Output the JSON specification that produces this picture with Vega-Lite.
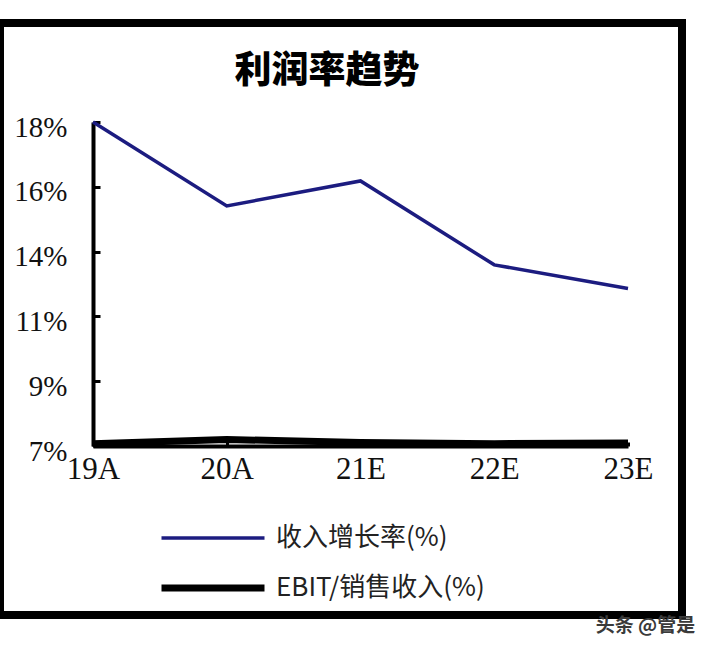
{
  "$schema": "https://vega.github.io/schema/vega-lite/v6.json",
  "autosize": "none",
  "padding": {"left": 0, "top": 23, "right": 26, "bottom": 33},
  "width": 682,
  "height": 592,
  "background": "#ffffff",
  "title": {
    "text": "利润率趋势",
    "font": "Noto Sans CJK SC",
    "fontSize": 37,
    "fontWeight": 900,
    "color": "#000000",
    "anchor": "middle",
    "dx": -14,
    "offset": -68
  },
  "data": {
    "values": [
      {"year": "19A", "series": "收入增长率(%)", "value": 18.0},
      {"year": "20A", "series": "收入增长率(%)", "value": 15.15},
      {"year": "21E", "series": "收入增长率(%)", "value": 16.0},
      {"year": "22E", "series": "收入增长率(%)", "value": 13.15},
      {"year": "23E", "series": "收入增长率(%)", "value": 12.35},
      {"year": "19A", "series": "EBIT/销售收入(%)", "value": 7.08},
      {"year": "20A", "series": "EBIT/销售收入(%)", "value": 7.22},
      {"year": "21E", "series": "EBIT/销售收入(%)", "value": 7.12},
      {"year": "22E", "series": "EBIT/销售收入(%)", "value": 7.08},
      {"year": "23E", "series": "EBIT/销售收入(%)", "value": 7.1}
    ]
  },
  "mark": {"type": "line", "strokeCap": "butt", "strokeJoin": "miter"},
  "encoding": {
    "x": {
      "field": "year",
      "type": "ordinal",
      "scale": {"type": "point", "range": [93, 628], "padding": 0},
      "axis": {
        "title": "头条 @管是",
        "titleX": 645,
        "titleY": 179,
        "titleAlign": "center",
        "titleBaseline": "middle",
        "titleFont": "Noto Sans CJK SC",
        "titleFontSize": 19,
        "titleFontWeight": "bold",
        "titleColor": "#3a3a3a",
        "offset": -169,
        "labelAngle": 0,
        "labelFont": "Liberation Serif",
        "labelFontSize": 31,
        "labelColor": "#111111",
        "labelPadding": 12,
        "domainColor": "#000000",
        "domainWidth": 4,
        "tickColor": "#000000",
        "tickWidth": 3,
        "tickSize": -4
      }
    },
    "y": {
      "field": "value",
      "type": "quantitative",
      "scale": {"domain": [7, 18], "range": [423, 99], "nice": false, "zero": false},
      "axis": {
        "title": null,
        "offset": -93,
        "values": [7, 9.2, 11.4, 13.6, 15.8, 18],
        "labelExpr": "format(datum.value, '.0f') + '%'",
        "labelFont": "Liberation Serif",
        "labelFontSize": 29,
        "labelColor": "#111111",
        "labelOffset": 5,
        "labelPadding": 33,
        "grid": false,
        "domainColor": "#000000",
        "domainWidth": 4,
        "tickColor": "#000000",
        "tickWidth": 3,
        "tickSize": -7
      }
    },
    "color": {
      "field": "series",
      "type": "nominal",
      "sort": ["收入增长率(%)", "EBIT/销售收入(%)"],
      "scale": {"domain": ["收入增长率(%)", "EBIT/销售收入(%)"], "range": ["#1c1c80", "#000000"]},
      "legend": {
        "title": null,
        "orient": "none",
        "legendX": 158,
        "legendY": 500,
        "symbolType": "stroke",
        "symbolSize": 10609,
        "symbolStrokeWidth": 4,
        "clipHeight": 30,
        "labelFont": "Noto Sans CJK SC",
        "labelFontSize": 26,
        "labelLimit": 400,
        "labelColor": "#222222",
        "labelOffset": 8,
        "rowPadding": 20,
        "encode": {
          "symbols": {
            "update": {"strokeWidth": {"signal": "datum.label == '收入增长率(%)' ? 3.5 : 8"}}
          }
        }
      }
    },
    "strokeWidth": {
      "field": "series",
      "type": "ordinal",
      "sort": ["收入增长率(%)", "EBIT/销售收入(%)"],
      "scale": {"domain": ["收入增长率(%)", "EBIT/销售收入(%)"], "range": [3.5, 7]},
      "legend": null
    }
  },
  "config": {
    "view": {"stroke": "#000000", "strokeWidth": 8}
  }
}
